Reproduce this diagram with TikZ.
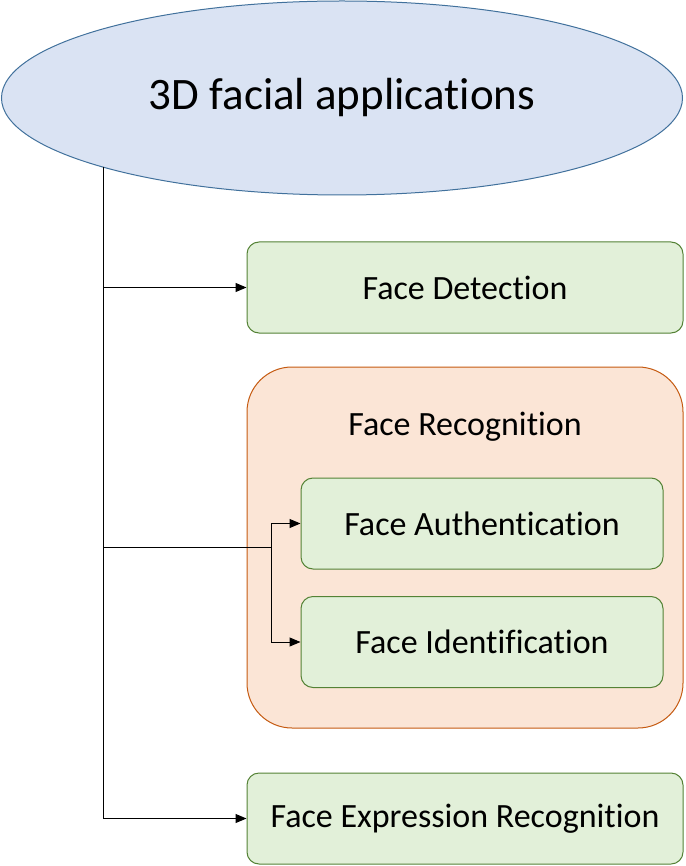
\documentclass[tikz,border=0pt]{standalone}
\usepackage{fontspec}
\setmainfont[Ligatures=NoCommon]{Carlito}
\usetikzlibrary{shapes.geometric,arrows.meta}
\definecolor{ellfill}{HTML}{DAE3F3}
\definecolor{elldraw}{HTML}{41719C}
\definecolor{grfill}{HTML}{E2F0D9}
\definecolor{grdraw}{HTML}{548235}
\definecolor{orfill}{HTML}{FBE5D6}
\definecolor{ordraw}{HTML}{C55A11}
\tikzset{
  greenbox/.style={draw=grdraw, fill=grfill, line width=1pt, rounded corners=12pt,
    minimum width=#1, minimum height=91pt, inner sep=0pt,
    font=\fontsize{34}{36}\selectfont},
  arr/.style={line width=1pt, -{Triangle[length=11pt,width=9pt]}},
  conn/.style={line width=1pt},
}
\begin{document}
\begin{tikzpicture}[x=1pt,y=-1pt]
\useasboundingbox (0,0) rectangle (685,866);
\node[ellipse, draw=elldraw, fill=ellfill, line width=1pt, minimum width=681pt,
  minimum height=194pt, inner sep=0pt, font=\fontsize{45}{48}\selectfont]
  (ell) at (342,98) {3D facial applications};
\node[greenbox=436pt] (det) at (465,287.5) {Face Detection};
\node[draw=ordraw, fill=orfill, line width=1pt, rounded corners=45pt,
  minimum width=436pt, minimum height=361pt] (rec) at (465,547.5) {};
\node[font=\fontsize{34}{36}\selectfont] (rectitle) at (465,427) {Face Recognition};
\node[greenbox=362pt] (auth) at (482,523.5) {Face Authentication};
\node[greenbox=362pt] (ident) at (482,642) {Face Identification};
\node[greenbox=436pt] (expr) at (465,818.5) {Face Expression Recognition};
\coordinate (top) at (103,167);
\coordinate (br) at (271,547.5);
\draw[conn] (top) -- (top |- expr.west);
\draw[arr] (top) |- (det.west);
\draw[arr] (top) |- (expr.west);
\draw[conn] (top |- br) -- (br);
\draw[arr] (br) |- (auth.west);
\draw[arr] (br) |- (ident.west);
\end{tikzpicture}
\end{document}
